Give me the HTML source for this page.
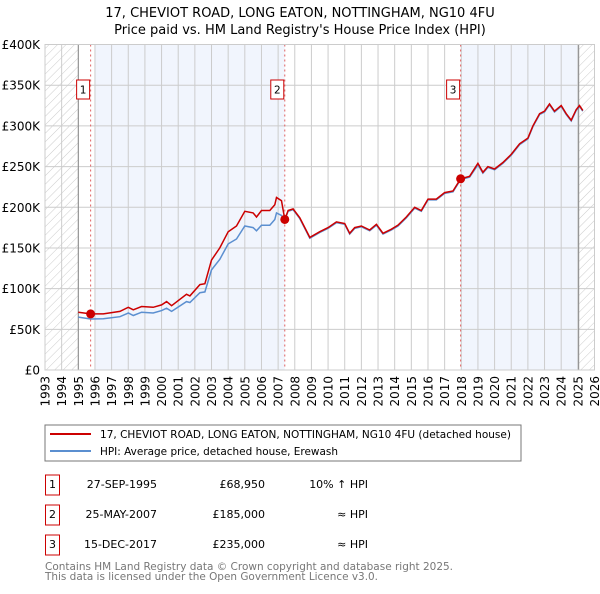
<!DOCTYPE html>
<html><head><meta charset="utf-8">
<style>
body{margin:0;background:#fff;font-family:"DejaVu Sans","Liberation Sans",sans-serif;}
svg text{font-family:"DejaVu Sans","Liberation Sans",sans-serif;}
</style></head>
<body>
<svg id="c" width="600" height="590" xmlns="http://www.w3.org/2000/svg">
<defs>
<pattern id="hatch" width="6" height="6" patternUnits="userSpaceOnUse" patternTransform="rotate(45)">
<line x1="0" y1="0" x2="0" y2="6" stroke="#ccc" stroke-width="1"/>
</pattern>
</defs>
<text x="300" y="17" text-anchor="middle" font-size="13" fill="#000">17, CHEVIOT ROAD, LONG EATON, NOTTINGHAM, NG10 4FU</text>
<text x="300" y="34" text-anchor="middle" font-size="13" fill="#000">Price paid vs. HM Land Registry's House Price Index (HPI)</text>
<g id="plot"></g>
<g id="legend">
<rect x="45" y="425" width="476" height="36" fill="#fff" stroke="#777"/>
<line x1="50" y1="434" x2="91" y2="434" stroke="#cc0000" stroke-width="2"/>
<text x="100" y="438" font-size="11" textLength="411" lengthAdjust="spacingAndGlyphs">17, CHEVIOT ROAD, LONG EATON, NOTTINGHAM, NG10 4FU (detached house)</text>
<line x1="50" y1="451" x2="91" y2="451" stroke="#5b8fd0" stroke-width="2"/>
<text x="100" y="455" font-size="11" textLength="238" lengthAdjust="spacingAndGlyphs">HPI: Average price, detached house, Erewash</text>
</g>
<g id="table" font-size="11">
<rect x="45.5" y="475" width="14" height="20" fill="#fff" stroke="#cc0000"/><text x="52.5" y="488" text-anchor="middle">1</text>
<text x="157" y="488" text-anchor="end">27-SEP-1995</text>
<text x="265" y="488" text-anchor="end">£68,950</text>
<text x="368" y="488" text-anchor="end">10% ↑ HPI</text>
<rect x="45.5" y="505" width="14" height="20" fill="#fff" stroke="#cc0000"/><text x="52.5" y="518" text-anchor="middle">2</text>
<text x="157" y="518" text-anchor="end">25-MAY-2007</text>
<text x="265" y="518" text-anchor="end">£185,000</text>
<text x="368" y="518" text-anchor="end">≈ HPI</text>
<rect x="45.5" y="535" width="14" height="20" fill="#fff" stroke="#cc0000"/><text x="52.5" y="548" text-anchor="middle">3</text>
<text x="157" y="548" text-anchor="end">15-DEC-2017</text>
<text x="265" y="548" text-anchor="end">£235,000</text>
<text x="368" y="548" text-anchor="end">≈ HPI</text>
</g>
<text x="45" y="570" font-size="11" fill="#777" textLength="408" lengthAdjust="spacingAndGlyphs">Contains HM Land Registry data © Crown copyright and database right 2025.</text>
<text x="45" y="580" font-size="11" fill="#777" textLength="333" lengthAdjust="spacingAndGlyphs">This data is licensed under the Open Government Licence v3.0.</text>
</svg>
<script>
const years=[1993,1994,1995,1996,1997,1998,1999,2000,2001,2002,2003,2004,2005,2006,2007,2008,2009,2010,2011,2012,2013,2014,2015,2016,2017,2018,2019,2020,2021,2022,2023,2024,2025,2026];
const yTicks=[0,50,100,150,200,250,300,350,400];
const yTickLabels=["£0","£50K","£100K","£150K","£200K","£250K","£300K","£350K","£400K"];
const redDates=[1995.0,1995.74,1996.5,1997.5,1998.0,1998.3,1998.8,1999.5,2000.0,2000.3,2000.6,2001.5,2001.7,2002.3,2002.6,2003.0,2003.5,2004.0,2004.5,2005.0,2005.5,2005.7,2006.0,2006.5,2006.8,2006.9,2007.2,2007.4,2007.6,2007.9,2008.3,2008.9,2009.5,2010.0,2010.5,2011.0,2011.3,2011.6,2012.0,2012.5,2012.9,2013.3,2013.8,2014.2,2014.7,2015.2,2015.6,2016.0,2016.5,2017.0,2017.5,2017.96,2018.5,2019.0,2019.3,2019.6,2020.0,2020.5,2021.0,2021.5,2022.0,2022.3,2022.7,2023.0,2023.3,2023.6,2024.0,2024.3,2024.6,2024.9,2025.1,2025.3];
const redVals=[71,68.95,69,72,77,74,78,77,80,84,79,93,91,105,106,135,150,170,177,195,193,188,196,196,203,212,208,185,196,198,187,163,170,175,182,180,168,175,177,172,179,168,173,178,188,200,196,210,210,218,220,235,238,254,243,250,247,255,265,278,285,300,315,318,327,318,325,315,307,320,325,319];
const hpiDates=[1995.0,1995.74,1996.5,1997.5,1998.0,1998.3,1998.8,1999.5,2000.0,2000.3,2000.6,2001.5,2001.7,2002.3,2002.6,2003.0,2003.5,2004.0,2004.5,2005.0,2005.5,2005.7,2006.0,2006.5,2006.8,2006.9,2007.2,2007.4,2007.6,2007.9,2008.3,2008.9,2009.5,2010.0,2010.5,2011.0,2011.3,2011.6,2012.0,2012.5,2012.9,2013.3,2013.8,2014.2,2014.7,2015.2,2015.6,2016.0,2016.5,2017.0,2017.5,2017.96,2018.5,2019.0,2019.3,2019.6,2020.0,2020.5,2021.0,2021.5,2022.0,2022.3,2022.7,2023.0,2023.3,2023.6,2024.0,2024.3,2024.6,2024.9,2025.1,2025.3];
const hpiVals=[65,62.7,63,65.5,70,67,71,70,73,76,72,84,83,95,96,123,136,155,161,177,175,171,178,178,185,193,190,184,195,197,186,162,169,174,181,179,167,174,176,171,178,167,172,177,187,199,195,209,209,217,219,234,237,252,242,249,246,254,264,277,284,299,314,317,326,317,324,314,306,319,324,318];
const saleDates=[1995.74,2007.4,2017.96];
const saleVals=[68.95,185,235];
const saleLabels=["1","2","3"];

const NS="http://www.w3.org/2000/svg";
const L=45,R=594.5,T=44.5,B=370;
const X=y=>L+(y-1993)*(R-L)/33;
const Y=v=>B-v*(B-T)/400;
const g=document.getElementById('plot');
function mk(t,a){const e=document.createElementNS(NS,t);for(const k in a)e.setAttribute(k,a[k]);g.appendChild(e);return e;}
let e;
e=mk('rect',{x:L,y:T,width:R-L,height:B-T,fill:'#fff'});


e=mk('rect',{x:X(1993),y:T,width:X(1995)-X(1993),height:B-T,fill:'url(#hatch)'});


e=mk('rect',{x:X(2025.05),y:T,width:R-X(2025.05),height:B-T,fill:'url(#hatch)'});


e=mk('rect',{x:X(1996),y:T,width:X(saleDates[1])-X(1996),height:B-T,fill:'#eef3fc',opacity:0.8});


e=mk('rect',{x:X(saleDates[2]),y:T,width:X(2025.05)-X(saleDates[2]),height:B-T,fill:'#eef3fc',opacity:0.8});


years.forEach((yr,i)=>{
  const x=X(yr);
  e=mk('line',{x1:x,x2:x,y1:T,y2:B,stroke:'#ccc','stroke-width':1});
  
  
  e=mk('text',{x:0,y:0,transform:`translate(${x+4.5},${B+6}) rotate(-90)`,'text-anchor':'end','font-size':12,fill:'#000'});
  e.textContent=yr;
  
  
});
yTicks.forEach((v,i)=>{
  const y=Y(v);
  e=mk('line',{x1:L,x2:R,y1:y,y2:y,stroke:'#ccc','stroke-width':1});
  
  
  e=mk('text',{x:40,y:y+4.5,'text-anchor':'end','font-size':12,fill:'#000'});
  e.textContent=yTickLabels[i];
  
  
});
e=mk('line',{x1:X(1995),x2:X(1995),y1:T,y2:B,stroke:'#888','stroke-width':1});


e=mk('line',{x1:X(2025.05),x2:X(2025.05),y1:T,y2:B,stroke:'#888','stroke-width':1});


saleDates.forEach((d,i)=>{
  const x=X(d);
  e=mk('line',{x1:x,x2:x,y1:T,y2:B,stroke:'#e06060','stroke-width':1,'stroke-dasharray':'2,3'});
  
  
});
const path=(ds,vs)=>ds.map((d,i)=>(i?'L':'M')+X(d).toFixed(1)+','+Y(vs[i]).toFixed(1)).join('');
e=mk('path',{d:path(hpiDates,hpiVals),fill:'none',stroke:'#5b8fd0','stroke-width':1.5});


e=mk('path',{d:path(redDates,redVals),fill:'none',stroke:'#cc0000','stroke-width':1.5});


saleDates.forEach((d,i)=>{
  const x=X(d),y=Y(saleVals[i]);
  e=mk('circle',{cx:x,cy:y,r:4.5,fill:'#cc0000'});
  
  
  e=mk('rect',{x:x-14,y:80,width:13,height:19,fill:'#fff',stroke:'#cc0000'});
  
  
  e=mk('text',{x:x-7.5,y:93.5,'text-anchor':'middle','font-size':10.5,fill:'#000'});
  e.textContent=saleLabels[i];
  
  
});
e=mk('rect',{x:L,y:T,width:R-L,height:B-T,fill:'none',stroke:'#ccc'});


</script>
</body></html>
